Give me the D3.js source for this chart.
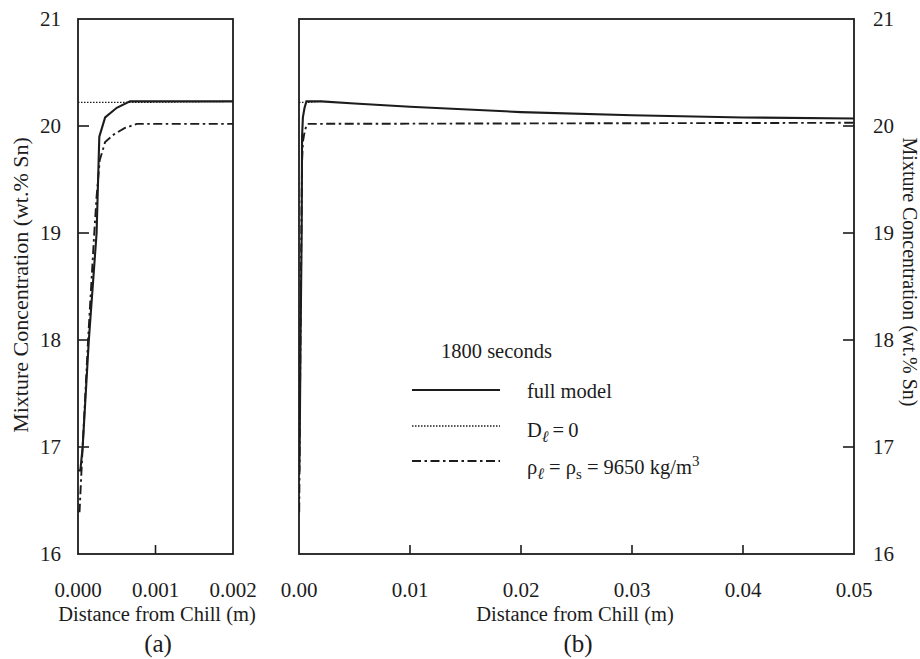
<!DOCTYPE html>
<html><head><meta charset="utf-8">
<script src="https://cdn.jsdelivr.net/npm/d3@7"></script>
<style>
body{margin:0;background:#fff}
svg{display:block}
text{font-family:"Liberation Serif","Times New Roman",serif;fill:#1c1c1c}
</style>
</head><body>
<svg id="c" width="920" height="659"></svg>
<script>
// ---- data ----
const yTickValues = [17, 18, 19, 20];
const yLabelValues = [16, 17, 18, 19, 20, 21];
const xTicksA = [0, 0.001, 0.002];
const xTickLabelsA = ["0.000", "0.001", "0.002"];
const xTicksB = [0, 0.01, 0.02, 0.03, 0.04, 0.05];
const xTickLabelsB = ["0.00", "0.01", "0.02", "0.03", "0.04", "0.05"];
// [distance (m), concentration (wt.% Sn)]
const fullModel = [[0,16.78],[0.00003,16.78],[0.00006,17.0],[0.00014,18.0],[0.00024,19.0],[0.000275,19.9],[0.00035,20.08],[0.0005,20.17],[0.00067,20.23],[0.002,20.23],[0.005,20.21],[0.01,20.18],[0.02,20.13],[0.03,20.10],[0.04,20.08],[0.05,20.07]];
const dlZero = [[0,20.22],[0.00067,20.22],[0.002,20.23]];
const rhoEqual = [[0,16.4],[0.00002,16.4],[0.00006,17.0],[0.00013,18.0],[0.00021,19.0],[0.00024,19.34],[0.00028,19.68],[0.00035,19.85],[0.00046,19.92],[0.0006,19.98],[0.00076,20.02],[0.05,20.03]];
const legendTitle = "1800 seconds";
const legendItems = ["full model", "D_l = 0", "rho_l = rho_s = 9650 kg/m3"];

// ---- layout ----
const svg = d3.select("#c");
const ink = "#1c1c1c";
const plotTop = 19, plotBottom = 554;
const y = d3.scaleLinear().domain([16, 21]).range([plotBottom, plotTop]);
const xA = d3.scaleLinear().domain([0, 0.002]).range([78, 233]);
const xB = d3.scaleLinear().domain([0, 0.05]).range([299, 854]);

const styles = {
  full: {w: 2.1, dash: null},
  dot: {w: 1.3, dash: "1.5,1.5"},
  dd: {w: 1.9, dash: "9,3.5,2.5,3.5"}
};

function panel(x, id, tickSide, xTickVals, xTickLabs) {
  const [x0, x1] = x.range();
  const defs = svg.append("defs");
  defs.append("clipPath").attr("id", id).append("rect")
    .attr("x", x0).attr("y", plotTop).attr("width", x1 - x0).attr("height", plotBottom - plotTop);
  const g = svg.append("g");
  const line = d3.line().x(d => x(d[0])).y(d => y(d[1]));
  const lg = g.append("g").attr("clip-path", `url(#${id})`);
  const series = [[dlZero, styles.dot], [rhoEqual, styles.dd], [fullModel, styles.full]];
  series.forEach(([data, s]) => {
    lg.append("path").datum(data).attr("d", line)
      .attr("fill", "none").attr("stroke", ink).attr("stroke-width", s.w)
      .attr("stroke-dasharray", s.dash);
  });
  g.append("rect").attr("x", x0).attr("y", plotTop).attr("width", x1 - x0).attr("height", plotBottom - plotTop)
    .attr("fill", "none").attr("stroke", ink).attr("stroke-width", 1.8);
  const ax = tickSide === "left" ? x0 : x1;
  const dir = tickSide === "left" ? 1 : -1;
  g.selectAll(null).data(yTickValues).enter().append("line")
    .attr("x1", ax).attr("x2", ax + dir * 11)
    .attr("y1", d => y(d)).attr("y2", d => y(d))
    .attr("stroke", ink).attr("stroke-width", 1.6);
  g.selectAll(null).data(xTickVals.slice(1, -1)).enter().append("line")
    .attr("x1", d => x(d)).attr("x2", d => x(d))
    .attr("y1", plotBottom).attr("y2", plotBottom - 9)
    .attr("stroke", ink).attr("stroke-width", 1.6);
  g.selectAll(null).data(xTickVals).enter().append("text")
    .attr("x", d => x(d)).attr("y", 597).attr("text-anchor", "middle")
    .attr("font-size", 21).text((d, i) => xTickLabs[i]);
  g.selectAll(null).data(yLabelValues).enter().append("text")
    .attr("x", tickSide === "left" ? 61 : 873).attr("y", d => y(d) + 7)
    .attr("text-anchor", tickSide === "left" ? "end" : "start")
    .attr("font-size", 21).text(d => d);
  return g;
}

panel(xA, "clipA", "left", xTicksA, xTickLabelsA);
panel(xB, "clipB", "right", xTicksB, xTickLabelsB);

// axis titles
svg.append("text").attr("x", 157).attr("y", 621).attr("text-anchor", "middle")
  .attr("font-size", 20.5).text("Distance from Chill (m)");
svg.append("text").attr("x", 575).attr("y", 621).attr("text-anchor", "middle")
  .attr("font-size", 20.5).text("Distance from Chill (m)");
svg.append("text").attr("x", 158).attr("y", 652).attr("text-anchor", "middle")
  .attr("font-size", 25).text("(a)");
svg.append("text").attr("x", 578).attr("y", 652).attr("text-anchor", "middle")
  .attr("font-size", 25).text("(b)");
svg.append("text").attr("transform", "translate(28,285) rotate(-90)").attr("text-anchor", "middle")
  .attr("font-size", 22).text("Mixture Concentration (wt.% Sn)");
svg.append("text").attr("transform", "translate(903,272) rotate(90)").attr("text-anchor", "middle")
  .attr("font-size", 20).text("Mixture Concentration (wt.% Sn)");

// legend
const lgX0 = 412, lgX1 = 500, lgT = 527, fs = 20.5;
svg.append("text").attr("x", 441).attr("y", 358).attr("font-size", fs).text(legendTitle);
const rows = [
  {s: styles.full, ly: 390, ty: 398},
  {s: styles.dot, ly: 426, ty: 437},
  {s: styles.dd, ly: 461, ty: 474}
];
rows.forEach(r => {
  svg.append("line").attr("x1", lgX0).attr("x2", lgX1).attr("y1", r.ly).attr("y2", r.ly)
    .attr("stroke", ink).attr("stroke-width", r.s.w).attr("stroke-dasharray", r.s.dash);
});
svg.append("text").attr("x", lgT).attr("y", rows[0].ty).attr("font-size", fs).text(legendItems[0]);
const t1 = svg.append("text").attr("x", lgT).attr("y", rows[1].ty).attr("font-size", fs);
t1.append("tspan").text("D");
t1.append("tspan").attr("dy", 5).attr("font-size", 16).attr("font-style", "italic").text("\u2113");
t1.append("tspan").attr("dy", -5).text("\u2009=\u20090");
const t2 = svg.append("text").attr("x", lgT).attr("y", rows[2].ty).attr("font-size", fs);
t2.append("tspan").text("\u03C1");
t2.append("tspan").attr("dy", 5).attr("font-size", 16).attr("font-style", "italic").text("\u2113");
t2.append("tspan").attr("dy", -5).text(" = \u03C1");
t2.append("tspan").attr("dy", 5).attr("font-size", 15).text("s");
t2.append("tspan").attr("dy", -5).text(" = 9650 kg/m");
t2.append("tspan").attr("dy", -8).attr("font-size", 15).text("3");
</script>
</body></html>
